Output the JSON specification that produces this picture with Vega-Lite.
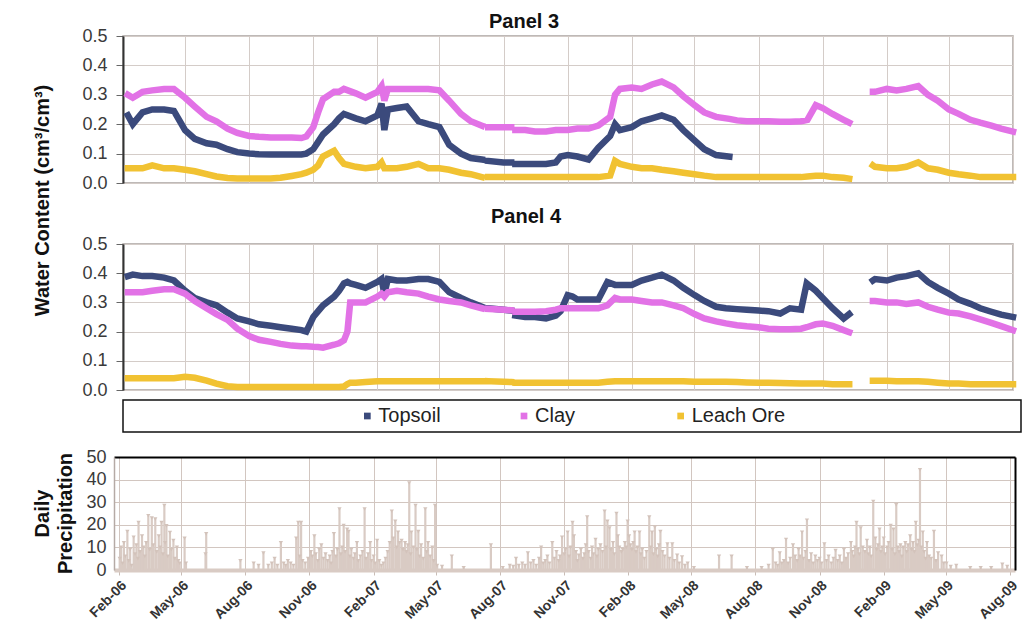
{
  "$schema": "https://vega.github.io/schema/vega-lite/v6.json",
  "padding": {"left": 31, "top": 11, "right": 5, "bottom": 5},
  "background": "white",
  "config": {"font": "Liberation Sans"},
  "datasets": {
    "p3": [
      {"d":"2006-02-08","Topsoil":0.23,"Clay":0.30,"Leach Ore":0.05},
      {"d":"2006-02-15","Topsoil":0.20,"Clay":0.29,"Leach Ore":0.05},
      {"d":"2006-03-01","Topsoil":0.24,"Clay":0.31,"Leach Ore":0.05},
      {"d":"2006-03-15","Topsoil":0.25,"Clay":0.315,"Leach Ore":0.06},
      {"d":"2006-04-01","Topsoil":0.25,"Clay":0.32,"Leach Ore":0.05},
      {"d":"2006-04-15","Topsoil":0.245,"Clay":0.32,"Leach Ore":0.05},
      {"d":"2006-05-01","Topsoil":0.18,"Clay":0.29,"Leach Ore":0.045},
      {"d":"2006-05-15","Topsoil":0.15,"Clay":0.26,"Leach Ore":0.04},
      {"d":"2006-06-01","Topsoil":0.135,"Clay":0.225,"Leach Ore":0.03},
      {"d":"2006-06-15","Topsoil":0.13,"Clay":0.21,"Leach Ore":0.022},
      {"d":"2006-07-01","Topsoil":0.115,"Clay":0.185,"Leach Ore":0.017},
      {"d":"2006-07-15","Topsoil":0.105,"Clay":0.17,"Leach Ore":0.015},
      {"d":"2006-08-01","Topsoil":0.10,"Clay":0.16,"Leach Ore":0.015},
      {"d":"2006-08-15","Topsoil":0.098,"Clay":0.157,"Leach Ore":0.015},
      {"d":"2006-09-01","Topsoil":0.097,"Clay":0.155,"Leach Ore":0.015},
      {"d":"2006-09-15","Topsoil":0.097,"Clay":0.155,"Leach Ore":0.018},
      {"d":"2006-10-01","Topsoil":0.097,"Clay":0.155,"Leach Ore":0.024},
      {"d":"2006-10-15","Topsoil":0.097,"Clay":0.153,"Leach Ore":0.03},
      {"d":"2006-10-22","Topsoil":0.10,"Clay":0.158,"Leach Ore":0.035},
      {"d":"2006-11-01","Topsoil":0.115,"Clay":0.19,"Leach Ore":0.045},
      {"d":"2006-11-08","Topsoil":0.14,"Clay":0.24,"Leach Ore":0.06},
      {"d":"2006-11-15","Topsoil":0.165,"Clay":0.285,"Leach Ore":0.09},
      {"d":"2006-12-01","Topsoil":0.20,"Clay":0.31,"Leach Ore":0.11},
      {"d":"2006-12-08","Topsoil":0.22,"Clay":0.31,"Leach Ore":0.085},
      {"d":"2006-12-15","Topsoil":0.235,"Clay":0.32,"Leach Ore":0.065},
      {"d":"2007-01-01","Topsoil":0.22,"Clay":0.305,"Leach Ore":0.055},
      {"d":"2007-01-15","Topsoil":0.21,"Clay":0.29,"Leach Ore":0.05},
      {"d":"2007-02-01","Topsoil":0.23,"Clay":0.31,"Leach Ore":0.055},
      {"d":"2007-02-07","Topsoil":0.27,"Clay":0.33,"Leach Ore":0.07},
      {"d":"2007-02-11","Topsoil":0.18,"Clay":0.28,"Leach Ore":0.05},
      {"d":"2007-02-16","Topsoil":0.25,"Clay":0.32,"Leach Ore":0.05},
      {"d":"2007-03-01","Topsoil":0.255,"Clay":0.32,"Leach Ore":0.05},
      {"d":"2007-03-15","Topsoil":0.26,"Clay":0.32,"Leach Ore":0.055},
      {"d":"2007-04-01","Topsoil":0.21,"Clay":0.32,"Leach Ore":0.065},
      {"d":"2007-04-15","Topsoil":0.20,"Clay":0.32,"Leach Ore":0.05},
      {"d":"2007-05-01","Topsoil":0.19,"Clay":0.315,"Leach Ore":0.05},
      {"d":"2007-05-15","Topsoil":0.13,"Clay":0.28,"Leach Ore":0.045},
      {"d":"2007-06-01","Topsoil":0.10,"Clay":0.235,"Leach Ore":0.035},
      {"d":"2007-06-15","Topsoil":0.085,"Clay":0.21,"Leach Ore":0.03},
      {"d":"2007-07-01","Topsoil":0.08,"Clay":0.195,"Leach Ore":0.02},
      {"d":"2007-07-05","Topsoil":null,"Clay":null,"Leach Ore":null},
      {"d":"2007-07-10","Topsoil":0.075,"Clay":0.19,"Leach Ore":0.02},
      {"d":"2007-08-01","Topsoil":0.07,"Clay":0.19,"Leach Ore":0.02},
      {"d":"2007-08-12","Topsoil":0.07,"Clay":0.19,"Leach Ore":0.02},
      {"d":"2007-08-15","Topsoil":null,"Clay":null,"Leach Ore":null},
      {"d":"2007-08-18","Topsoil":0.065,"Clay":0.18,"Leach Ore":0.02},
      {"d":"2007-09-01","Topsoil":0.065,"Clay":0.18,"Leach Ore":0.02},
      {"d":"2007-09-15","Topsoil":0.065,"Clay":0.175,"Leach Ore":0.02},
      {"d":"2007-10-01","Topsoil":0.065,"Clay":0.175,"Leach Ore":0.02},
      {"d":"2007-10-15","Topsoil":0.07,"Clay":0.18,"Leach Ore":0.02},
      {"d":"2007-10-22","Topsoil":0.09,"Clay":0.18,"Leach Ore":0.02},
      {"d":"2007-11-01","Topsoil":0.095,"Clay":0.18,"Leach Ore":0.02},
      {"d":"2007-11-15","Topsoil":0.09,"Clay":0.185,"Leach Ore":0.02},
      {"d":"2007-12-01","Topsoil":0.08,"Clay":0.185,"Leach Ore":0.02},
      {"d":"2007-12-15","Topsoil":0.12,"Clay":0.195,"Leach Ore":0.02},
      {"d":"2008-01-01","Topsoil":0.16,"Clay":0.225,"Leach Ore":0.025},
      {"d":"2008-01-08","Topsoil":0.20,"Clay":0.30,"Leach Ore":0.075},
      {"d":"2008-01-15","Topsoil":0.18,"Clay":0.32,"Leach Ore":0.065},
      {"d":"2008-02-01","Topsoil":0.19,"Clay":0.325,"Leach Ore":0.055},
      {"d":"2008-02-15","Topsoil":0.21,"Clay":0.32,"Leach Ore":0.05},
      {"d":"2008-03-01","Topsoil":0.22,"Clay":0.335,"Leach Ore":0.05},
      {"d":"2008-03-15","Topsoil":0.23,"Clay":0.345,"Leach Ore":0.045},
      {"d":"2008-04-01","Topsoil":0.215,"Clay":0.325,"Leach Ore":0.04},
      {"d":"2008-04-15","Topsoil":0.18,"Clay":0.295,"Leach Ore":0.035},
      {"d":"2008-05-01","Topsoil":0.145,"Clay":0.265,"Leach Ore":0.03},
      {"d":"2008-05-15","Topsoil":0.115,"Clay":0.24,"Leach Ore":0.025},
      {"d":"2008-06-01","Topsoil":0.095,"Clay":0.225,"Leach Ore":0.02},
      {"d":"2008-06-20","Topsoil":0.09,"Clay":0.218,"Leach Ore":0.02},
      {"d":"2008-07-01","Topsoil":null,"Clay":0.213,"Leach Ore":0.02},
      {"d":"2008-07-15","Topsoil":null,"Clay":0.21,"Leach Ore":0.02},
      {"d":"2008-08-01","Topsoil":null,"Clay":0.21,"Leach Ore":0.02},
      {"d":"2008-08-15","Topsoil":null,"Clay":0.21,"Leach Ore":0.02},
      {"d":"2008-09-01","Topsoil":null,"Clay":0.208,"Leach Ore":0.02},
      {"d":"2008-09-15","Topsoil":null,"Clay":0.208,"Leach Ore":0.02},
      {"d":"2008-10-01","Topsoil":null,"Clay":0.21,"Leach Ore":0.02},
      {"d":"2008-10-10","Topsoil":null,"Clay":0.215,"Leach Ore":0.022},
      {"d":"2008-10-22","Topsoil":null,"Clay":0.265,"Leach Ore":0.025},
      {"d":"2008-11-01","Topsoil":null,"Clay":0.255,"Leach Ore":0.025},
      {"d":"2008-11-15","Topsoil":null,"Clay":0.235,"Leach Ore":0.02},
      {"d":"2008-12-01","Topsoil":null,"Clay":0.215,"Leach Ore":0.018},
      {"d":"2008-12-09","Topsoil":null,"Clay":0.205,"Leach Ore":0.015},
      {"d":"2008-12-20","Topsoil":null,"Clay":null,"Leach Ore":null},
      {"d":"2009-01-12","Topsoil":null,"Clay":0.31,"Leach Ore":0.06},
      {"d":"2009-01-15","Topsoil":null,"Clay":0.31,"Leach Ore":0.055},
      {"d":"2009-02-01","Topsoil":null,"Clay":0.32,"Leach Ore":0.05},
      {"d":"2009-02-15","Topsoil":null,"Clay":0.315,"Leach Ore":0.05},
      {"d":"2009-03-01","Topsoil":null,"Clay":0.32,"Leach Ore":0.055},
      {"d":"2009-03-18","Topsoil":null,"Clay":0.33,"Leach Ore":0.07},
      {"d":"2009-04-01","Topsoil":null,"Clay":0.30,"Leach Ore":0.05},
      {"d":"2009-04-15","Topsoil":null,"Clay":0.28,"Leach Ore":0.045},
      {"d":"2009-05-01","Topsoil":null,"Clay":0.25,"Leach Ore":0.035},
      {"d":"2009-05-15","Topsoil":null,"Clay":0.235,"Leach Ore":0.03},
      {"d":"2009-06-01","Topsoil":null,"Clay":0.215,"Leach Ore":0.025},
      {"d":"2009-06-15","Topsoil":null,"Clay":0.205,"Leach Ore":0.02},
      {"d":"2009-07-01","Topsoil":null,"Clay":0.195,"Leach Ore":0.02},
      {"d":"2009-07-15","Topsoil":null,"Clay":0.185,"Leach Ore":0.02},
      {"d":"2009-08-01","Topsoil":null,"Clay":0.175,"Leach Ore":0.02}
    ],
    "p4": [
      {"d":"2006-02-08","Topsoil":0.39,"Clay":0.335,"Leach Ore":0.04},
      {"d":"2006-02-15","Topsoil":0.395,"Clay":0.335,"Leach Ore":0.04},
      {"d":"2006-03-01","Topsoil":0.39,"Clay":0.335,"Leach Ore":0.04},
      {"d":"2006-03-15","Topsoil":0.39,"Clay":0.34,"Leach Ore":0.04},
      {"d":"2006-04-01","Topsoil":0.385,"Clay":0.345,"Leach Ore":0.04},
      {"d":"2006-04-15","Topsoil":0.375,"Clay":0.345,"Leach Ore":0.04},
      {"d":"2006-05-01","Topsoil":0.34,"Clay":0.33,"Leach Ore":0.045},
      {"d":"2006-05-15","Topsoil":0.315,"Clay":0.305,"Leach Ore":0.042},
      {"d":"2006-06-01","Topsoil":0.30,"Clay":0.28,"Leach Ore":0.032},
      {"d":"2006-06-15","Topsoil":0.29,"Clay":0.26,"Leach Ore":0.022},
      {"d":"2006-07-01","Topsoil":0.265,"Clay":0.24,"Leach Ore":0.013},
      {"d":"2006-07-15","Topsoil":0.245,"Clay":0.21,"Leach Ore":0.01},
      {"d":"2006-08-01","Topsoil":0.235,"Clay":0.185,"Leach Ore":0.01},
      {"d":"2006-08-15","Topsoil":0.225,"Clay":0.172,"Leach Ore":0.01},
      {"d":"2006-09-01","Topsoil":0.22,"Clay":0.165,"Leach Ore":0.01},
      {"d":"2006-09-15","Topsoil":0.215,"Clay":0.158,"Leach Ore":0.01},
      {"d":"2006-10-01","Topsoil":0.21,"Clay":0.152,"Leach Ore":0.01},
      {"d":"2006-10-15","Topsoil":0.205,"Clay":0.15,"Leach Ore":0.01},
      {"d":"2006-10-22","Topsoil":0.20,"Clay":0.15,"Leach Ore":0.01},
      {"d":"2006-11-01","Topsoil":0.25,"Clay":0.148,"Leach Ore":0.01},
      {"d":"2006-11-08","Topsoil":0.27,"Clay":0.147,"Leach Ore":0.01},
      {"d":"2006-11-15","Topsoil":0.29,"Clay":0.145,"Leach Ore":0.01},
      {"d":"2006-12-01","Topsoil":0.32,"Clay":0.155,"Leach Ore":0.01},
      {"d":"2006-12-08","Topsoil":0.34,"Clay":0.16,"Leach Ore":0.01},
      {"d":"2006-12-15","Topsoil":0.365,"Clay":0.17,"Leach Ore":0.012},
      {"d":"2006-12-20","Topsoil":0.37,"Clay":0.20,"Leach Ore":0.02},
      {"d":"2006-12-24","Topsoil":0.365,"Clay":0.30,"Leach Ore":0.025},
      {"d":"2007-01-01","Topsoil":0.36,"Clay":0.30,"Leach Ore":0.025},
      {"d":"2007-01-15","Topsoil":0.35,"Clay":0.30,"Leach Ore":0.027},
      {"d":"2007-02-01","Topsoil":0.37,"Clay":0.32,"Leach Ore":0.03},
      {"d":"2007-02-07","Topsoil":0.38,"Clay":0.33,"Leach Ore":0.03},
      {"d":"2007-02-11","Topsoil":0.33,"Clay":0.32,"Leach Ore":0.03},
      {"d":"2007-02-16","Topsoil":0.38,"Clay":0.335,"Leach Ore":0.03},
      {"d":"2007-03-01","Topsoil":0.375,"Clay":0.34,"Leach Ore":0.03},
      {"d":"2007-03-15","Topsoil":0.375,"Clay":0.335,"Leach Ore":0.03},
      {"d":"2007-04-01","Topsoil":0.38,"Clay":0.33,"Leach Ore":0.03},
      {"d":"2007-04-15","Topsoil":0.38,"Clay":0.32,"Leach Ore":0.03},
      {"d":"2007-05-01","Topsoil":0.37,"Clay":0.31,"Leach Ore":0.03},
      {"d":"2007-05-15","Topsoil":0.335,"Clay":0.305,"Leach Ore":0.03},
      {"d":"2007-06-01","Topsoil":0.315,"Clay":0.30,"Leach Ore":0.03},
      {"d":"2007-06-15","Topsoil":0.30,"Clay":0.29,"Leach Ore":0.03},
      {"d":"2007-07-01","Topsoil":0.285,"Clay":0.28,"Leach Ore":0.03},
      {"d":"2007-07-05","Topsoil":null,"Clay":null,"Leach Ore":null},
      {"d":"2007-07-10","Topsoil":0.28,"Clay":0.278,"Leach Ore":0.03},
      {"d":"2007-08-01","Topsoil":0.275,"Clay":0.275,"Leach Ore":0.028},
      {"d":"2007-08-12","Topsoil":0.272,"Clay":0.273,"Leach Ore":0.027},
      {"d":"2007-08-15","Topsoil":null,"Clay":null,"Leach Ore":null},
      {"d":"2007-08-18","Topsoil":0.255,"Clay":0.268,"Leach Ore":0.025},
      {"d":"2007-09-01","Topsoil":0.25,"Clay":0.268,"Leach Ore":0.025},
      {"d":"2007-09-15","Topsoil":0.25,"Clay":0.268,"Leach Ore":0.025},
      {"d":"2007-10-01","Topsoil":0.245,"Clay":0.27,"Leach Ore":0.025},
      {"d":"2007-10-15","Topsoil":0.255,"Clay":0.275,"Leach Ore":0.025},
      {"d":"2007-10-22","Topsoil":0.27,"Clay":0.28,"Leach Ore":0.025},
      {"d":"2007-11-01","Topsoil":0.325,"Clay":0.28,"Leach Ore":0.025},
      {"d":"2007-11-08","Topsoil":0.32,"Clay":0.28,"Leach Ore":0.025},
      {"d":"2007-11-15","Topsoil":0.31,"Clay":0.28,"Leach Ore":0.025},
      {"d":"2007-12-01","Topsoil":0.31,"Clay":0.28,"Leach Ore":0.025},
      {"d":"2007-12-15","Topsoil":0.31,"Clay":0.28,"Leach Ore":0.025},
      {"d":"2007-12-28","Topsoil":0.37,"Clay":0.29,"Leach Ore":0.028},
      {"d":"2008-01-08","Topsoil":0.36,"Clay":0.315,"Leach Ore":0.03},
      {"d":"2008-01-15","Topsoil":0.36,"Clay":0.31,"Leach Ore":0.03},
      {"d":"2008-02-01","Topsoil":0.36,"Clay":0.31,"Leach Ore":0.03},
      {"d":"2008-02-15","Topsoil":0.375,"Clay":0.305,"Leach Ore":0.03},
      {"d":"2008-03-01","Topsoil":0.385,"Clay":0.30,"Leach Ore":0.03},
      {"d":"2008-03-15","Topsoil":0.395,"Clay":0.30,"Leach Ore":0.03},
      {"d":"2008-04-01","Topsoil":0.375,"Clay":0.29,"Leach Ore":0.03},
      {"d":"2008-04-15","Topsoil":0.35,"Clay":0.28,"Leach Ore":0.03},
      {"d":"2008-05-01","Topsoil":0.325,"Clay":0.26,"Leach Ore":0.028},
      {"d":"2008-05-15","Topsoil":0.305,"Clay":0.245,"Leach Ore":0.028},
      {"d":"2008-06-01","Topsoil":0.285,"Clay":0.235,"Leach Ore":0.028},
      {"d":"2008-06-15","Topsoil":0.28,"Clay":0.228,"Leach Ore":0.028},
      {"d":"2008-07-01","Topsoil":0.277,"Clay":0.222,"Leach Ore":0.027},
      {"d":"2008-07-15","Topsoil":0.275,"Clay":0.218,"Leach Ore":0.026},
      {"d":"2008-08-01","Topsoil":0.272,"Clay":0.215,"Leach Ore":0.025},
      {"d":"2008-08-15","Topsoil":0.27,"Clay":0.21,"Leach Ore":0.025},
      {"d":"2008-09-01","Topsoil":0.262,"Clay":0.208,"Leach Ore":0.024},
      {"d":"2008-09-15","Topsoil":0.28,"Clay":0.208,"Leach Ore":0.023},
      {"d":"2008-10-01","Topsoil":0.275,"Clay":0.21,"Leach Ore":0.022},
      {"d":"2008-10-09","Topsoil":0.365,"Clay":0.215,"Leach Ore":0.022},
      {"d":"2008-10-22","Topsoil":0.34,"Clay":0.225,"Leach Ore":0.022},
      {"d":"2008-11-01","Topsoil":0.315,"Clay":0.228,"Leach Ore":0.022},
      {"d":"2008-11-15","Topsoil":0.28,"Clay":0.22,"Leach Ore":0.02},
      {"d":"2008-12-01","Topsoil":0.245,"Clay":0.205,"Leach Ore":0.02},
      {"d":"2008-12-09","Topsoil":0.26,"Clay":0.198,"Leach Ore":0.02},
      {"d":"2008-12-20","Topsoil":null,"Clay":null,"Leach Ore":null},
      {"d":"2009-01-12","Topsoil":0.375,"Clay":0.305,"Leach Ore":0.032},
      {"d":"2009-01-15","Topsoil":0.38,"Clay":0.305,"Leach Ore":0.032},
      {"d":"2009-02-01","Topsoil":0.375,"Clay":0.30,"Leach Ore":0.032},
      {"d":"2009-02-15","Topsoil":0.385,"Clay":0.30,"Leach Ore":0.03},
      {"d":"2009-03-01","Topsoil":0.39,"Clay":0.295,"Leach Ore":0.03},
      {"d":"2009-03-18","Topsoil":0.40,"Clay":0.30,"Leach Ore":0.03},
      {"d":"2009-04-01","Topsoil":0.37,"Clay":0.285,"Leach Ore":0.028},
      {"d":"2009-04-15","Topsoil":0.35,"Clay":0.275,"Leach Ore":0.025},
      {"d":"2009-05-01","Topsoil":0.33,"Clay":0.265,"Leach Ore":0.022},
      {"d":"2009-05-15","Topsoil":0.31,"Clay":0.262,"Leach Ore":0.022},
      {"d":"2009-06-01","Topsoil":0.295,"Clay":0.252,"Leach Ore":0.02},
      {"d":"2009-06-15","Topsoil":0.28,"Clay":0.242,"Leach Ore":0.02},
      {"d":"2009-07-01","Topsoil":0.268,"Clay":0.23,"Leach Ore":0.02},
      {"d":"2009-07-15","Topsoil":0.258,"Clay":0.219,"Leach Ore":0.02},
      {"d":"2009-08-01","Topsoil":0.25,"Clay":0.205,"Leach Ore":0.02}
    ],
    "pr": [
      {"d":"2006-02-02","p":5},{"d":"2006-02-04","p":10},{"d":"2006-02-06","p":3},{"d":"2006-02-08","p":12},{"d":"2006-02-10","p":6},{"d":"2006-02-13","p":17},{"d":"2006-02-15","p":4},{"d":"2006-02-17","p":9},{"d":"2006-02-19","p":2},{"d":"2006-02-22","p":14.5},{"d":"2006-02-24","p":7},{"d":"2006-02-26","p":11},{"d":"2006-02-28","p":5},
      {"d":"2006-03-01","p":21},{"d":"2006-03-03","p":8},{"d":"2006-03-06","p":15},{"d":"2006-03-08","p":10},{"d":"2006-03-10","p":6},{"d":"2006-03-12","p":12},{"d":"2006-03-15","p":24},{"d":"2006-03-17","p":9},{"d":"2006-03-20","p":23},{"d":"2006-03-22","p":11},{"d":"2006-03-25","p":22.5},{"d":"2006-03-27","p":8},{"d":"2006-03-30","p":15},
      {"d":"2006-04-01","p":10},{"d":"2006-04-03","p":21},{"d":"2006-04-05","p":7},{"d":"2006-04-07","p":28.5},{"d":"2006-04-08","p":12},{"d":"2006-04-10","p":19.5},{"d":"2006-04-12","p":6},{"d":"2006-04-15","p":16.5},{"d":"2006-04-17","p":9},{"d":"2006-04-20","p":13},{"d":"2006-04-22","p":5},{"d":"2006-04-25","p":10},{"d":"2006-04-27","p":4},{"d":"2006-04-29","p":3},
      {"d":"2006-05-06","p":14},{"d":"2006-05-08","p":3},{"d":"2006-06-05","p":7},{"d":"2006-06-06","p":16},{"d":"2006-07-25","p":4},{"d":"2006-08-13","p":3},{"d":"2006-08-20","p":2},{"d":"2006-08-27","p":7.5},
      {"d":"2006-09-03","p":2},{"d":"2006-09-08","p":3},{"d":"2006-09-12","p":5},{"d":"2006-09-16","p":2},{"d":"2006-09-21","p":12},{"d":"2006-09-25","p":3},{"d":"2006-09-28","p":2},
      {"d":"2006-10-01","p":4},{"d":"2006-10-05","p":3},{"d":"2006-10-09","p":2},{"d":"2006-10-13","p":14},{"d":"2006-10-16","p":21},{"d":"2006-10-18","p":6},{"d":"2006-10-20","p":21},{"d":"2006-10-22","p":4},{"d":"2006-10-26","p":3},{"d":"2006-10-30","p":5},
      {"d":"2006-11-03","p":8},{"d":"2006-11-05","p":6},{"d":"2006-11-08","p":15},{"d":"2006-11-10","p":7},{"d":"2006-11-13","p":4},{"d":"2006-11-15","p":9},{"d":"2006-11-18","p":11},{"d":"2006-11-21","p":5},{"d":"2006-11-24","p":7},{"d":"2006-11-27","p":4},{"d":"2006-11-30","p":6},
      {"d":"2006-12-02","p":3},{"d":"2006-12-04","p":8},{"d":"2006-12-06","p":16},{"d":"2006-12-09","p":6},{"d":"2006-12-11","p":9},{"d":"2006-12-14","p":27},{"d":"2006-12-16","p":7},{"d":"2006-12-18","p":10},{"d":"2006-12-20","p":19.7},{"d":"2006-12-22","p":8},{"d":"2006-12-25","p":18},{"d":"2006-12-27","p":17},{"d":"2006-12-29","p":6},{"d":"2006-12-31","p":9},
      {"d":"2007-01-03","p":5},{"d":"2007-01-05","p":7},{"d":"2007-01-08","p":12},{"d":"2007-01-10","p":4},{"d":"2007-01-13","p":6},{"d":"2007-01-16","p":8},{"d":"2007-01-19","p":27},{"d":"2007-01-21","p":5},{"d":"2007-01-24","p":7},{"d":"2007-01-27","p":12},{"d":"2007-01-29","p":4},
      {"d":"2007-02-01","p":6},{"d":"2007-02-03","p":3},{"d":"2007-02-06","p":13},{"d":"2007-02-09","p":4},{"d":"2007-02-12","p":2},{"d":"2007-02-15","p":3},{"d":"2007-02-18","p":5},{"d":"2007-02-21","p":8},{"d":"2007-02-24","p":12},{"d":"2007-02-27","p":26},
      {"d":"2007-03-01","p":14},{"d":"2007-03-04","p":21.5},{"d":"2007-03-06","p":10},{"d":"2007-03-08","p":16.7},{"d":"2007-03-10","p":12},{"d":"2007-03-13","p":13},{"d":"2007-03-15","p":9},{"d":"2007-03-18","p":12},{"d":"2007-03-20","p":8},{"d":"2007-03-22","p":11},{"d":"2007-03-24","p":38.5},{"d":"2007-03-26","p":7},{"d":"2007-03-27","p":16.7},{"d":"2007-03-30","p":10},
      {"d":"2007-04-02","p":28.5},{"d":"2007-04-04","p":9},{"d":"2007-04-06","p":17},{"d":"2007-04-08","p":6},{"d":"2007-04-10","p":11},{"d":"2007-04-13","p":5},{"d":"2007-04-16","p":27},{"d":"2007-04-18","p":8},{"d":"2007-04-20","p":12},{"d":"2007-04-23","p":6},{"d":"2007-04-26","p":10},{"d":"2007-04-28","p":4},{"d":"2007-04-30","p":28.5},
      {"d":"2007-05-03","p":2},{"d":"2007-05-10","p":1.5},{"d":"2007-05-24","p":6},{"d":"2007-06-10","p":1},{"d":"2007-07-19","p":11},{"d":"2007-08-05","p":1},{"d":"2007-08-15","p":2},{"d":"2007-08-20","p":1.5},{"d":"2007-08-24","p":5},{"d":"2007-08-28","p":2},
      {"d":"2007-09-02","p":3},{"d":"2007-09-06","p":2},{"d":"2007-09-10","p":7.5},{"d":"2007-09-14","p":3},{"d":"2007-09-18","p":4},{"d":"2007-09-22","p":2},{"d":"2007-09-26","p":5},{"d":"2007-09-29","p":10},
      {"d":"2007-10-02","p":3},{"d":"2007-10-05","p":4},{"d":"2007-10-08","p":6},{"d":"2007-10-11","p":3},{"d":"2007-10-15","p":12},{"d":"2007-10-18","p":5},{"d":"2007-10-21","p":8},{"d":"2007-10-24","p":4},{"d":"2007-10-26","p":6},{"d":"2007-10-29","p":14.5},
      {"d":"2007-11-01","p":7},{"d":"2007-11-03","p":9},{"d":"2007-11-06","p":16.7},{"d":"2007-11-08","p":6},{"d":"2007-11-10","p":10},{"d":"2007-11-13","p":21},{"d":"2007-11-15","p":15},{"d":"2007-11-18","p":8},{"d":"2007-11-20","p":4},{"d":"2007-11-22","p":6.5},{"d":"2007-11-25","p":9},{"d":"2007-11-28","p":5},{"d":"2007-11-30","p":7},
      {"d":"2007-12-02","p":11},{"d":"2007-12-04","p":23.4},{"d":"2007-12-06","p":8},{"d":"2007-12-09","p":5},{"d":"2007-12-11","p":10},{"d":"2007-12-13","p":7},{"d":"2007-12-16","p":13.5},{"d":"2007-12-18","p":6},{"d":"2007-12-20","p":9},{"d":"2007-12-23","p":11},{"d":"2007-12-26","p":8},{"d":"2007-12-29","p":26},{"d":"2007-12-31","p":10},
      {"d":"2008-01-02","p":21.5},{"d":"2008-01-05","p":18.6},{"d":"2008-01-07","p":9},{"d":"2008-01-10","p":12},{"d":"2008-01-12","p":7},{"d":"2008-01-15","p":25},{"d":"2008-01-17","p":15},{"d":"2008-01-19","p":10},{"d":"2008-01-22","p":8},{"d":"2008-01-24","p":9},{"d":"2008-01-27","p":12},{"d":"2008-01-29","p":10},{"d":"2008-01-31","p":21.5},
      {"d":"2008-02-02","p":15},{"d":"2008-02-04","p":11},{"d":"2008-02-06","p":9},{"d":"2008-02-08","p":12},{"d":"2008-02-10","p":16.7},{"d":"2008-02-12","p":8},{"d":"2008-02-14","p":10},{"d":"2008-02-17","p":16.7},{"d":"2008-02-19","p":7},{"d":"2008-02-21","p":9},{"d":"2008-02-24","p":5},{"d":"2008-02-27","p":8},
      {"d":"2008-03-02","p":23.4},{"d":"2008-03-04","p":10},{"d":"2008-03-06","p":16.7},{"d":"2008-03-08","p":7},{"d":"2008-03-10","p":19},{"d":"2008-03-12","p":9},{"d":"2008-03-14","p":6},{"d":"2008-03-16","p":11},{"d":"2008-03-18","p":17},{"d":"2008-03-21","p":8},{"d":"2008-03-24","p":6},{"d":"2008-03-28","p":11.5},{"d":"2008-03-31","p":5},
      {"d":"2008-04-04","p":11.5},{"d":"2008-04-07","p":4},{"d":"2008-04-11","p":6.5},{"d":"2008-04-14","p":3},{"d":"2008-04-18","p":5.7},{"d":"2008-04-22","p":2},{"d":"2008-04-26","p":3},{"d":"2008-05-05","p":1},{"d":"2008-06-10","p":6},{"d":"2008-06-28","p":6},{"d":"2008-07-20","p":1},{"d":"2008-08-10","p":1},{"d":"2008-08-20","p":2},{"d":"2008-08-26","p":9},{"d":"2008-08-30","p":3},
      {"d":"2008-09-02","p":2},{"d":"2008-09-05","p":7.5},{"d":"2008-09-08","p":3},{"d":"2008-09-11","p":4},{"d":"2008-09-14","p":13.5},{"d":"2008-09-17","p":3},{"d":"2008-09-20","p":5},{"d":"2008-09-24","p":11},{"d":"2008-09-27","p":6},{"d":"2008-09-30","p":4},
      {"d":"2008-10-02","p":9},{"d":"2008-10-04","p":6},{"d":"2008-10-07","p":16.7},{"d":"2008-10-09","p":5},{"d":"2008-10-12","p":8},{"d":"2008-10-14","p":22},{"d":"2008-10-17","p":4},{"d":"2008-10-20","p":7},{"d":"2008-10-23","p":3},{"d":"2008-10-26","p":6},{"d":"2008-10-29","p":4},
      {"d":"2008-11-01","p":5},{"d":"2008-11-04","p":3},{"d":"2008-11-08","p":11.5},{"d":"2008-11-11","p":4},{"d":"2008-11-14","p":6},{"d":"2008-11-18","p":3},{"d":"2008-11-21","p":5},{"d":"2008-11-24","p":8.6},{"d":"2008-11-27","p":4},{"d":"2008-11-30","p":6},
      {"d":"2008-12-03","p":3},{"d":"2008-12-06","p":9},{"d":"2008-12-09","p":5},{"d":"2008-12-12","p":7},{"d":"2008-12-16","p":12},{"d":"2008-12-18","p":8},{"d":"2008-12-20","p":6},{"d":"2008-12-22","p":10},{"d":"2008-12-24","p":21},{"d":"2008-12-26","p":9},{"d":"2008-12-28","p":7},{"d":"2008-12-30","p":18.6},
      {"d":"2009-01-02","p":10},{"d":"2009-01-05","p":8},{"d":"2009-01-08","p":13},{"d":"2009-01-10","p":7},{"d":"2009-01-12","p":10},{"d":"2009-01-14","p":6},{"d":"2009-01-17","p":30.3},{"d":"2009-01-20","p":14},{"d":"2009-01-22","p":9},{"d":"2009-01-24","p":11},{"d":"2009-01-26","p":18},{"d":"2009-01-28","p":8},{"d":"2009-01-30","p":10},
      {"d":"2009-02-01","p":14},{"d":"2009-02-03","p":7},{"d":"2009-02-06","p":10},{"d":"2009-02-08","p":12},{"d":"2009-02-11","p":19.7},{"d":"2009-02-13","p":9},{"d":"2009-02-15","p":18},{"d":"2009-02-17","p":7},{"d":"2009-02-19","p":28.8},{"d":"2009-02-21","p":10},{"d":"2009-02-23","p":8},{"d":"2009-02-25","p":11},{"d":"2009-02-27","p":6},
      {"d":"2009-03-01","p":10},{"d":"2009-03-04","p":12},{"d":"2009-03-06","p":8},{"d":"2009-03-08","p":11},{"d":"2009-03-11","p":15},{"d":"2009-03-13","p":9},{"d":"2009-03-15","p":12},{"d":"2009-03-17","p":8},{"d":"2009-03-19","p":21},{"d":"2009-03-21","p":11},{"d":"2009-03-23","p":13},{"d":"2009-03-25","p":44.3},{"d":"2009-03-27","p":10},{"d":"2009-03-29","p":16.7},{"d":"2009-03-31","p":8},
      {"d":"2009-04-02","p":5},{"d":"2009-04-04","p":12},{"d":"2009-04-07","p":6},{"d":"2009-04-10","p":5},{"d":"2009-04-14","p":17},{"d":"2009-04-17","p":4},{"d":"2009-04-20","p":7.5},{"d":"2009-04-25","p":6},{"d":"2009-04-28","p":3},
      {"d":"2009-05-02","p":3},{"d":"2009-05-08","p":1.5},{"d":"2009-05-16","p":2},{"d":"2009-06-05","p":1},{"d":"2009-06-20","p":1},{"d":"2009-07-05","p":1},{"d":"2009-07-21","p":2.5},{"d":"2009-07-28","p":1.5}
    ]
  },
  "vconcat": [
    {
      "width": 890, "height": 147,
      "data": {"name": "p3"},
      "title": {"text": "Panel 3", "fontSize": 20, "fontWeight": "bold", "color": "#111", "anchor": "middle", "dx": -44, "offset": -21, "baseline": "alphabetic"},
      "view": {"stroke": "#a9a3a0", "strokeWidth": 1.5},
      "transform": [{"fold": ["Topsoil", "Clay", "Leach Ore"], "as": ["series", "v"]}],
      "mark": {"type": "line", "strokeWidth": 6.5, "strokeCap": "square", "invalid": "break-paths-show-domains"},
      "encoding": {
        "x": {"field": "d", "type": "temporal",
          "scale": {"type": "utc", "domain": [{"year": 2006, "month": 2, "date": 1, "utc": true}, {"year": 2009, "month": 8, "date": 1, "utc": true}]},
          "axis": {"values": [{"year":2006,"month":2,"date":1,"utc":true},{"year":2006,"month":5,"date":1,"utc":true},{"year":2006,"month":8,"date":1,"utc":true},{"year":2006,"month":11,"date":1,"utc":true},{"year":2007,"month":2,"date":1,"utc":true},{"year":2007,"month":5,"date":1,"utc":true},{"year":2007,"month":8,"date":1,"utc":true},{"year":2007,"month":11,"date":1,"utc":true},{"year":2008,"month":2,"date":1,"utc":true},{"year":2008,"month":5,"date":1,"utc":true},{"year":2008,"month":8,"date":1,"utc":true},{"year":2008,"month":11,"date":1,"utc":true},{"year":2009,"month":2,"date":1,"utc":true},{"year":2009,"month":5,"date":1,"utc":true},{"year":2009,"month":8,"date":1,"utc":true}],
            "labels": false, "ticks": false, "domain": false, "grid": true, "gridColor": "#d4ccc8", "title": null}},
        "y": {"field": "v", "type": "quantitative", "scale": {"domain": [0, 0.5]},
          "axis": {"values": [0, 0.1, 0.2, 0.3, 0.4, 0.5], "format": ".1f", "labelFontSize": 18, "labelColor": "#3a3a3a", "labelPadding": 9, "tickSize": 7, "tickColor": "#666", "domainColor": "#333", "domainWidth": 2, "gridColor": "#d4ccc8",
            "title": "Water Content (cm³/cm³)", "titleFontSize": 20, "titleFontWeight": "bold", "titleColor": "#111", "titleX": -81, "titleY": 164, "titleBaseline": "middle", "titleAngle": -90, "titleAlign": "center"}},
        "color": {"field": "series", "type": "nominal", "scale": {"domain": ["Topsoil", "Clay", "Leach Ore"], "range": ["#3b4a7c", "#e272e6", "#f1c232"]}, "legend": null}
      }
    },
    {"width": 10, "height": 61, "data": {"values": []}, "mark": "point", "encoding": {}, "view": {"stroke": null}},
    {
      "width": 890, "height": 146,
      "data": {"name": "p4"},
      "title": {"text": "Panel 4", "fontSize": 20, "fontWeight": "bold", "color": "#111", "anchor": "middle", "dx": -42, "offset": -8, "baseline": "alphabetic"},
      "view": {"stroke": "#a9a3a0", "strokeWidth": 1.5},
      "transform": [{"fold": ["Topsoil", "Clay", "Leach Ore"], "as": ["series", "v"]}],
      "mark": {"type": "line", "strokeWidth": 6.5, "strokeCap": "square", "invalid": "break-paths-show-domains"},
      "encoding": {
        "x": {"field": "d", "type": "temporal",
          "scale": {"type": "utc", "domain": [{"year": 2006, "month": 2, "date": 1, "utc": true}, {"year": 2009, "month": 8, "date": 1, "utc": true}]},
          "axis": {"values": [{"year":2006,"month":2,"date":1,"utc":true},{"year":2006,"month":5,"date":1,"utc":true},{"year":2006,"month":8,"date":1,"utc":true},{"year":2006,"month":11,"date":1,"utc":true},{"year":2007,"month":2,"date":1,"utc":true},{"year":2007,"month":5,"date":1,"utc":true},{"year":2007,"month":8,"date":1,"utc":true},{"year":2007,"month":11,"date":1,"utc":true},{"year":2008,"month":2,"date":1,"utc":true},{"year":2008,"month":5,"date":1,"utc":true},{"year":2008,"month":8,"date":1,"utc":true},{"year":2008,"month":11,"date":1,"utc":true},{"year":2009,"month":2,"date":1,"utc":true},{"year":2009,"month":5,"date":1,"utc":true},{"year":2009,"month":8,"date":1,"utc":true}],
            "labels": false, "ticks": false, "domain": false, "grid": true, "gridColor": "#d4ccc8", "title": null}},
        "y": {"field": "v", "type": "quantitative", "scale": {"domain": [0, 0.5]},
          "axis": {"values": [0, 0.1, 0.2, 0.3, 0.4, 0.5], "format": ".1f", "labelFontSize": 18, "labelColor": "#3a3a3a", "labelPadding": 9, "tickSize": 7, "tickColor": "#666", "domainColor": "#333", "domainWidth": 2, "gridColor": "#d4ccc8", "title": null}},
        "color": {"field": "series", "type": "nominal", "scale": {"domain": ["Topsoil", "Clay", "Leach Ore"], "range": ["#3b4a7c", "#e272e6", "#f1c232"]}, "legend": null}
      }
    },
    {"width": 10, "height": 10, "data": {"values": []}, "mark": "point", "encoding": {}, "view": {"stroke": null}},
    {
      "width": 898, "height": 32,
      "data": {"values": [{"s": "Topsoil"}, {"s": "Clay"}, {"s": "Leach Ore"}]},
      "view": {"stroke": "#111", "strokeWidth": 1.5},
      "encoding": {"x": {"field": "s", "type": "nominal", "scale": {"type": "point", "domain": ["Topsoil", "Clay", "Leach Ore"], "range": [166, 636]}, "axis": null}},
      "layer": [
        {"mark": {"type": "square", "size": 45, "opacity": 1}, "encoding": {"color": {"field": "s", "type": "nominal", "scale": {"domain": ["Topsoil", "Clay", "Leach Ore"], "range": ["#3b4a7c", "#e272e6", "#f1c232"]}, "legend": null}}},
        {"mark": {"type": "text", "align": "left", "baseline": "middle", "dx": 11, "fontSize": 20, "color": "#222"}, "encoding": {"text": {"field": "s"}}}
      ]
    },
    {"width": 10, "height": 25, "data": {"values": []}, "mark": "point", "encoding": {}, "view": {"stroke": null}},
    {
      "width": 892, "height": 113,
      "data": {"name": "pr"},
      "view": {"stroke": null},
      "layer": [
        {
          "mark": {"type": "bar", "width": 2.2, "color": "#d9cbc4"},
          "encoding": {
            "x": {"field": "d", "type": "temporal",
              "scale": {"type": "utc", "domain": [{"year": 2006, "month": 2, "date": 1, "utc": true}, {"year": 2009, "month": 8, "date": 1, "utc": true}], "range": [-9, 892]},
              "axis": {"orient": "bottom", "values": [{"year":2006,"month":2,"date":1,"utc":true},{"year":2006,"month":5,"date":1,"utc":true},{"year":2006,"month":8,"date":1,"utc":true},{"year":2006,"month":11,"date":1,"utc":true},{"year":2007,"month":2,"date":1,"utc":true},{"year":2007,"month":5,"date":1,"utc":true},{"year":2007,"month":8,"date":1,"utc":true},{"year":2007,"month":11,"date":1,"utc":true},{"year":2008,"month":2,"date":1,"utc":true},{"year":2008,"month":5,"date":1,"utc":true},{"year":2008,"month":8,"date":1,"utc":true},{"year":2008,"month":11,"date":1,"utc":true},{"year":2009,"month":2,"date":1,"utc":true},{"year":2009,"month":5,"date":1,"utc":true},{"year":2009,"month":8,"date":1,"utc":true}],
                "format": "%b-%y", "labelAngle": -45, "labelAlign": "right", "labelBaseline": "top", "labelFontSize": 14, "labelFontWeight": "bold", "labelColor": "#333", "labelPadding": 3,
                "tickSize": 5, "tickColor": "#c9bdb6", "domainColor": "#d9cbc4", "domainWidth": 4, "grid": true, "gridColor": "#d2c6c0", "title": null}},
            "y": {"field": "p", "type": "quantitative", "scale": {"domain": [0, 50]},
              "axis": {"orient": "left", "offset": 9, "values": [0, 10, 20, 30, 40, 50], "labelFontSize": 18, "labelColor": "#3a3a3a", "labelPadding": 8, "ticks": false, "domainColor": "#b5aaa5", "domainWidth": 1.5, "gridColor": "#d2c6c0",
                "title": ["Daily", "Precipitation"], "titleFontSize": 20, "titleFontWeight": "bold", "titleColor": "#111", "titleX": -72, "titleY": 56, "titleBaseline": "middle", "titleAngle": -90, "titleAlign": "center", "titleLineHeight": 23}}
          }
        },
        {
          "mark": {"type": "point", "shape": "triangle-down", "size": 18, "filled": true, "color": "#d3c3bb", "opacity": 1},
          "encoding": {
            "x": {"field": "d", "type": "temporal", "axis": {"orient": "top", "labels": false, "ticks": false, "grid": false, "domainColor": "#000", "domainWidth": 2, "title": null}},
            "y": {"field": "p", "type": "quantitative", "axis": {"orient": "right", "labels": false, "ticks": false, "grid": false, "domainColor": "#000", "domainWidth": 2, "title": null}}
          }
        }
      ],
      "resolve": {"axis": {"x": "independent", "y": "independent"}}
    }
  ],
  "spacing": 0,
  "bounds": "flush"
}
